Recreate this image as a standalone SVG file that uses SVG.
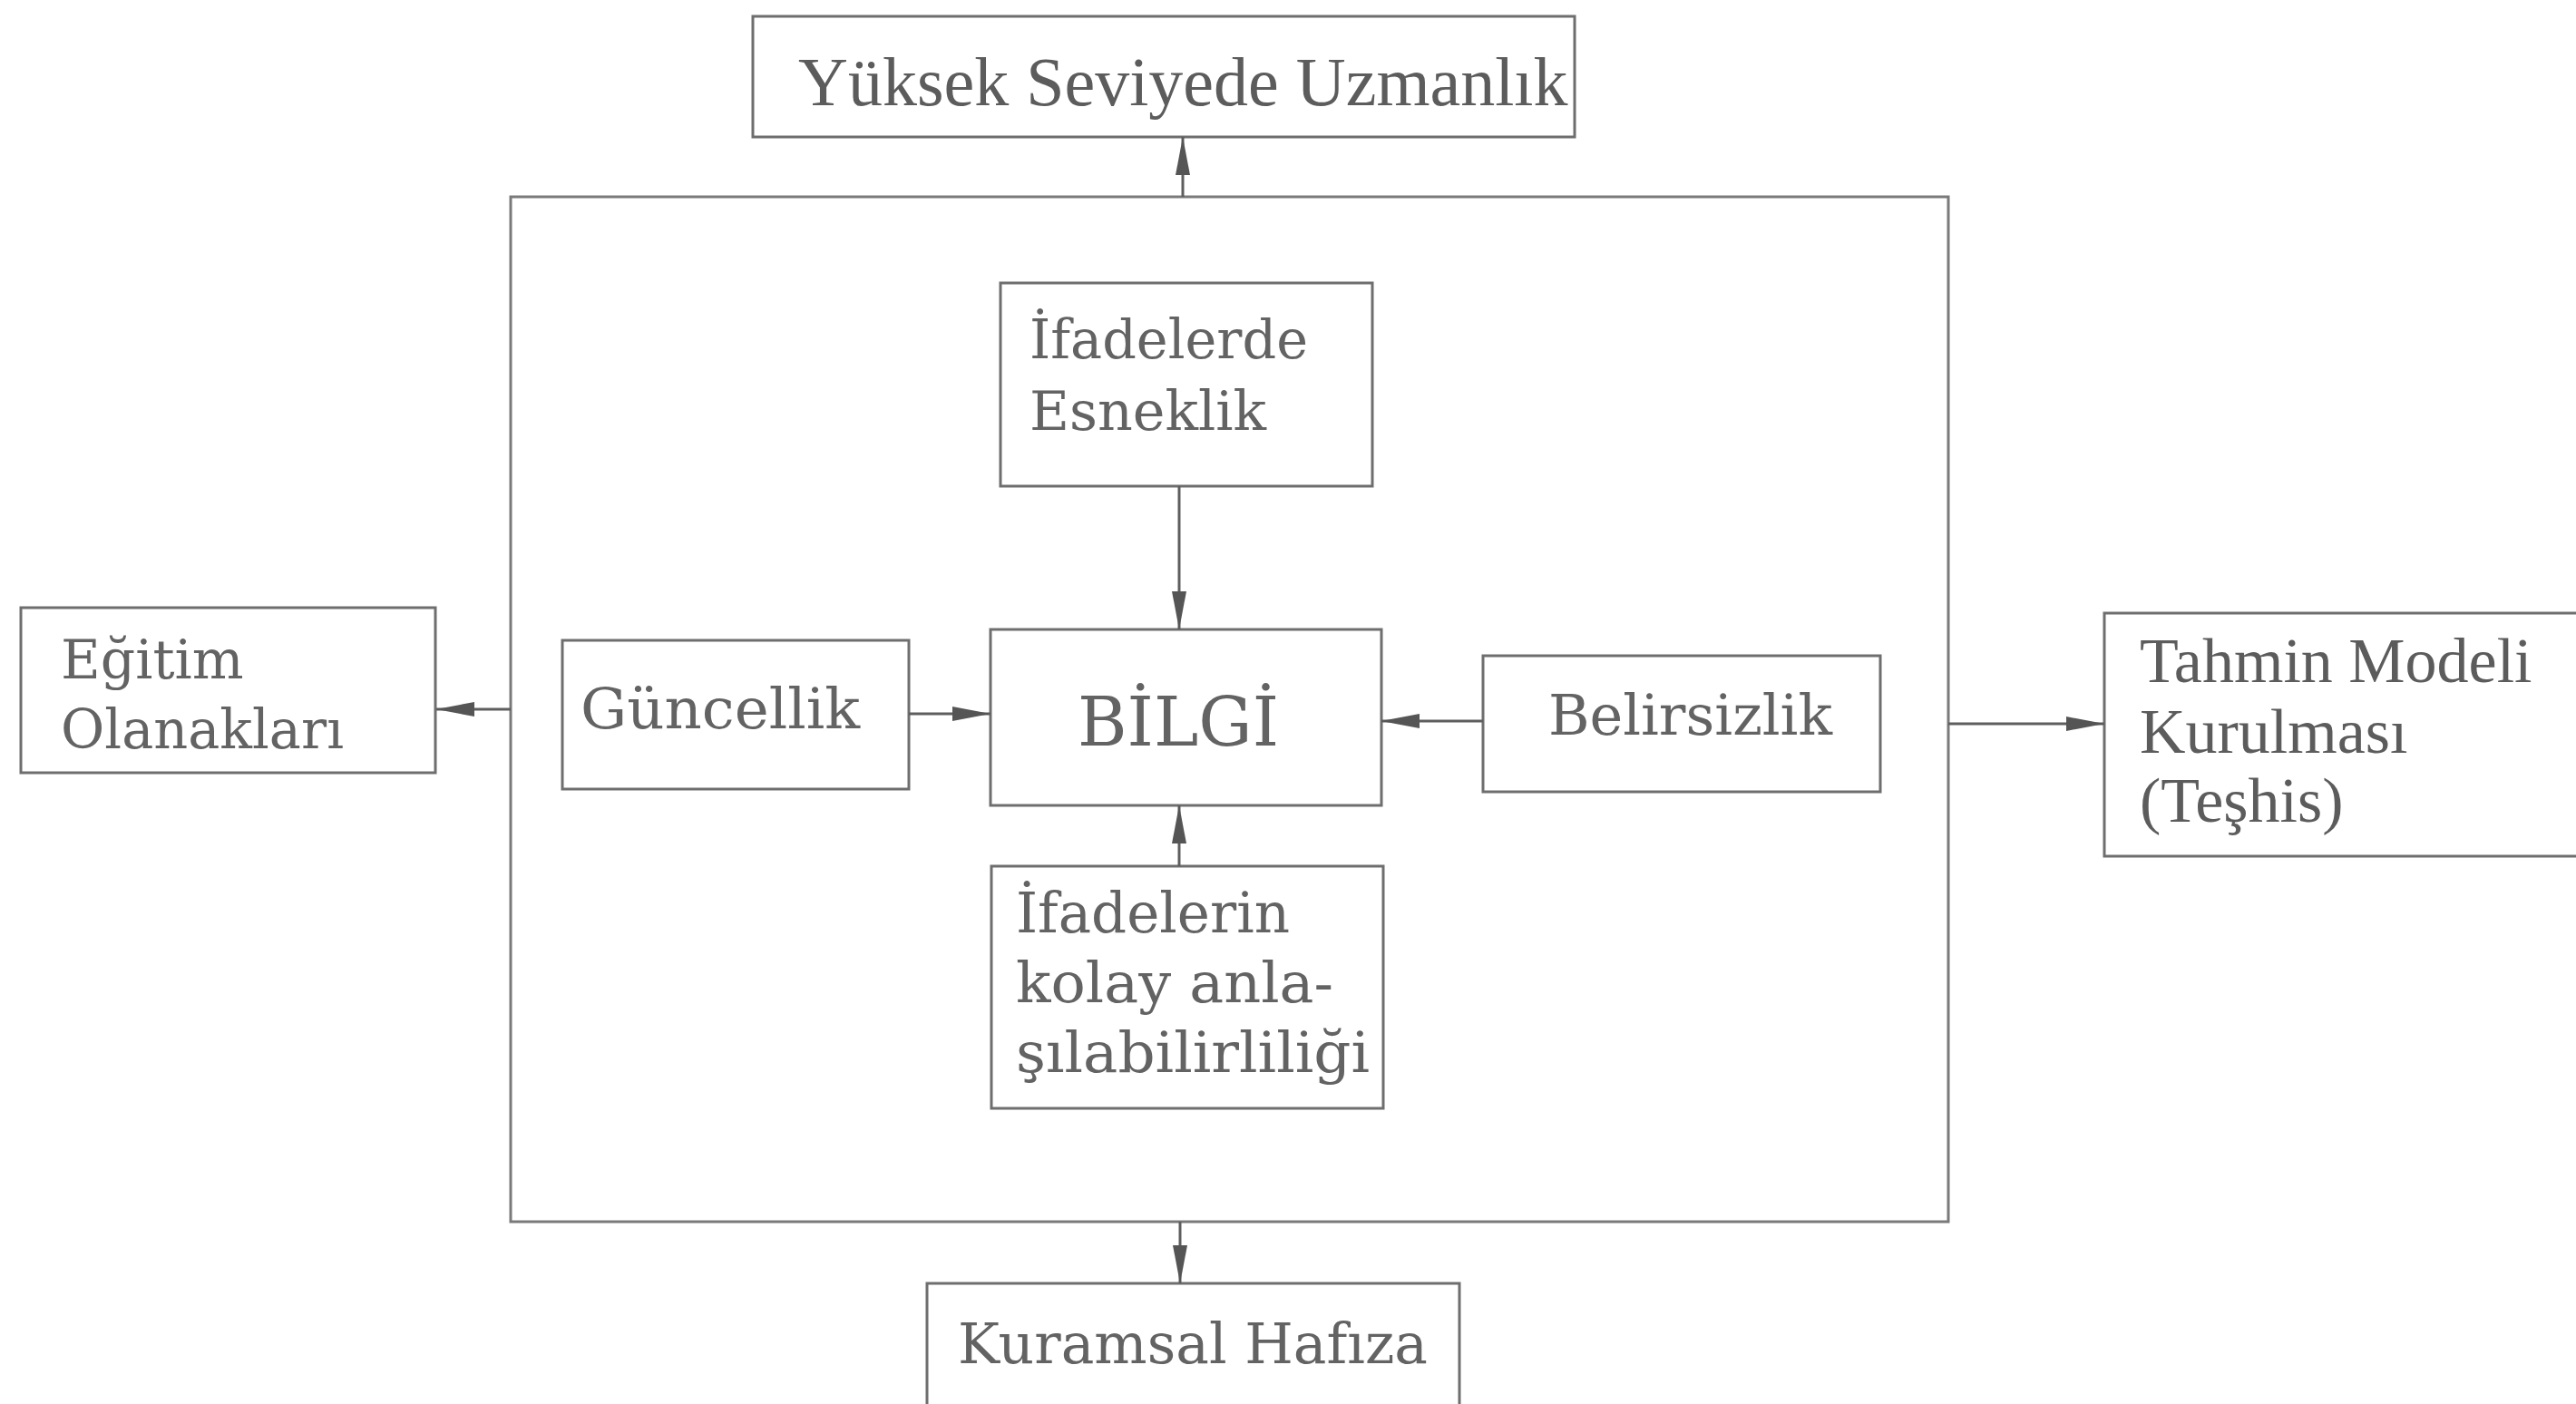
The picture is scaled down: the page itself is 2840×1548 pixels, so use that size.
<svg xmlns="http://www.w3.org/2000/svg" width="2840" height="1548" viewBox="0 0 2840 1548">
<style>
.box{fill:none;stroke:#6e6e6e;stroke-width:3}
.outer{fill:none;stroke:#7a7a7a;stroke-width:3}
.c{fill:none;stroke:#5e5e5e;stroke-width:3}
.t{font-family:"Liberation Serif","Times New Roman",serif;fill:#5c5c5c}
.d{font-family:"DejaVu Serif","Liberation Serif",serif;fill:#636363}
</style>
<defs>
<marker id="ah" markerUnits="userSpaceOnUse" markerWidth="44" markerHeight="22" refX="42" refY="10" orient="auto">
<path d="M0,2 L42,10 L0,18 Z" fill="#555"/>
</marker>
</defs>
<rect width="2840" height="1548" fill="#ffffff"/>
<g id="outer-frame"><rect class="outer" x="563" y="217" width="1585" height="1130"/></g>
<g id="yuksek"><rect class="box" x="830" y="18" width="906" height="133"/><text class="t" x="880" y="116" font-size="76">Yüksek Seviyede Uzmanlık</text></g>
<g id="esneklik"><rect class="box" x="1103" y="312" width="410" height="224"/><text class="d" font-size="60"><tspan x="1135" y="395" textLength="307" lengthAdjust="spacingAndGlyphs">İfadelerde</tspan><tspan x="1135" y="474" textLength="261" lengthAdjust="spacingAndGlyphs">Esneklik</tspan></text></g>
<g id="bilgi"><rect class="box" x="1092" y="694" width="431" height="194"/><text class="d" x="1188" y="822" font-size="75" textLength="222" lengthAdjust="spacingAndGlyphs">BİLGİ</text></g>
<g id="guncellik"><rect class="box" x="620" y="706" width="382" height="164"/><text class="d" x="640" y="803" font-size="62" textLength="308" lengthAdjust="spacingAndGlyphs">Güncellik</text></g>
<g id="belirsizlik"><rect class="box" x="1635" y="723" width="438" height="150"/><text class="d" x="1707" y="810" font-size="62" textLength="313" lengthAdjust="spacingAndGlyphs">Belirsizlik</text></g>
<g id="ifadelerin"><rect class="box" x="1093" y="955" width="432" height="267"/><text class="d" font-size="62"><tspan x="1120" y="1028" textLength="302" lengthAdjust="spacingAndGlyphs">İfadelerin</tspan><tspan x="1120" y="1105" textLength="350" lengthAdjust="spacingAndGlyphs">kolay anla-</tspan><tspan x="1120" y="1182" textLength="390" lengthAdjust="spacingAndGlyphs">şılabilirliliği</tspan></text></g>
<g id="egitim"><rect class="box" x="23" y="670" width="457" height="182"/><text class="d" font-size="60"><tspan x="67" y="748">Eğitim</tspan><tspan x="67" y="825" textLength="312" lengthAdjust="spacingAndGlyphs">Olanakları</tspan></text></g>
<g id="tahmin"><rect class="box" x="2320" y="676" width="540" height="268"/><text class="t" font-size="70"><tspan x="2359" y="752">Tahmin Modeli</tspan><tspan x="2359" y="830">Kurulması</tspan><tspan x="2359" y="906">(Teşhis)</tspan></text></g>
<g id="kuramsal"><rect class="box" x="1022" y="1415" width="587" height="150"/><text class="d" x="1056" y="1503" font-size="62" textLength="518" lengthAdjust="spacingAndGlyphs">Kuramsal Hafıza</text></g>
<g id="connectors">
<path class="c" d="M1304 217 L1304 151" marker-end="url(#ah)"/>
<path class="c" d="M563 782 L481 782" marker-end="url(#ah)"/>
<path class="c" d="M1002 787 L1092 787" marker-end="url(#ah)"/>
<path class="c" d="M1635 795 L1523 795" marker-end="url(#ah)"/>
<path class="c" d="M2148 798 L2320 798" marker-end="url(#ah)"/>
<path class="c" d="M1300 536 L1300 694" marker-end="url(#ah)"/>
<path class="c" d="M1300 955 L1300 888" marker-end="url(#ah)"/>
<path class="c" d="M1301 1347 L1301 1415" marker-end="url(#ah)"/>
</g>
</svg>
